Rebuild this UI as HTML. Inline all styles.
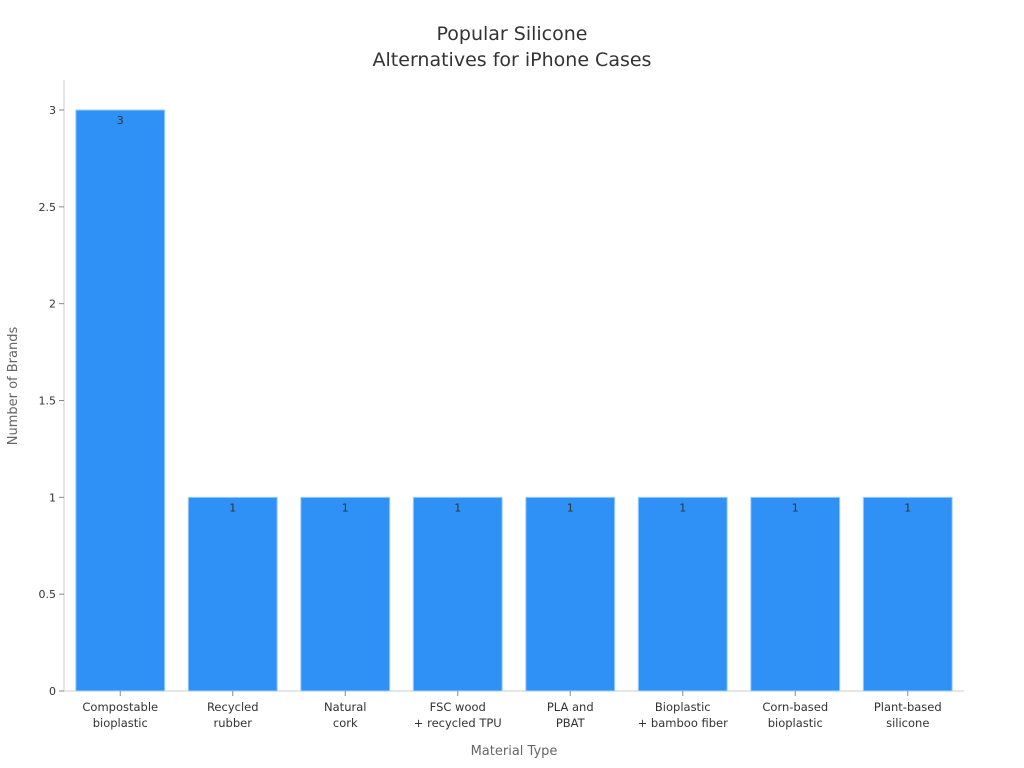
<!DOCTYPE html>
<html><head><meta charset="utf-8"><style>
body{margin:0;background:#fff}
svg{display:block;font-family:"DejaVu Sans","Liberation Sans",sans-serif}
</style></head><body>
<svg id="chart" width="1024" height="768">
<text x="512" y="40" text-anchor="middle" font-size="19" fill="#333"><tspan x="512">Popular Silicone</tspan><tspan x="512" dy="26">Alternatives for iPhone Cases</tspan></text>
<text x="514" y="755" text-anchor="middle" font-size="13" fill="#666">Material Type</text>
<text transform="translate(17,386) rotate(-90)" text-anchor="middle" font-size="13" fill="#666">Number of Brands</text>
<g id="plot"></g>
</svg>
<script>
const categories=[["Compostable","bioplastic"],["Recycled","rubber"],["Natural","cork"],["FSC wood","+ recycled TPU"],["PLA and","PBAT"],["Bioplastic","+ bamboo fiber"],["Corn-based","bioplastic"],["Plant-based","silicone"]];
const values=[3,1,1,1,1,1,1,1];
const yTicks=[0,0.5,1,1.5,2,2.5,3];
const tickLabels=["0","0.5","1","1.5","2","2.5","3"];
const X0=64,X1=964,Y0=691,Y3=110;
const band=(X1-X0)/categories.length;
const y=v=>Y0-(Y0-Y3)*v/3;
const xc=i=>X0+band*(i+0.5);
const g=document.getElementById('plot');
const NS='http://www.w3.org/2000/svg';
function mk(t,a){const e=document.createElementNS(NS,t);for(const k in a)e.setAttribute(k,a[k]);g.appendChild(e);return e;}
let ax=mk('line',{x1:X0,y1:80,x2:X0,y2:Y0,stroke:'#ccc'});


let bx=mk('line',{x1:X0,y1:Y0,x2:X1,y2:Y0,stroke:'#ccc'});


yTicks.forEach((t,i)=>{
 mk('line',{x1:X0-5,x2:X0,y1:y(t),y2:y(t),stroke:'#888'});
 const tx=mk('text',{x:X0-8,y:y(t)+4,'text-anchor':'end','font-size':11,fill:'#333'});
 tx.textContent=tickLabels[i];
 
 
});
values.forEach((v,i)=>{
 const w=band*0.79;
 const r=mk('rect',{x:xc(i)-w/2,y:y(v),width:w,height:Y0-y(v),fill:'#2f91f6',stroke:'#9fd0ff','stroke-width':1});
 
 
 const l=mk('text',{x:xc(i),y:y(v)+14,'text-anchor':'middle','font-size':11,fill:'#333'});
 l.textContent=v;
 
 
 mk('line',{x1:xc(i),x2:xc(i),y1:Y0,y2:Y0+5,stroke:'#888'});
 const c=mk('text',{x:xc(i),y:711,'text-anchor':'middle','font-size':11.5,fill:'#333'});
 
 
 categories[i].forEach((s,j)=>{const ts=document.createElementNS(NS,'tspan');ts.setAttribute('x',xc(i));ts.setAttribute('dy',j?16:0);ts.textContent=s;c.appendChild(ts);});
});
</script>
</body></html>
